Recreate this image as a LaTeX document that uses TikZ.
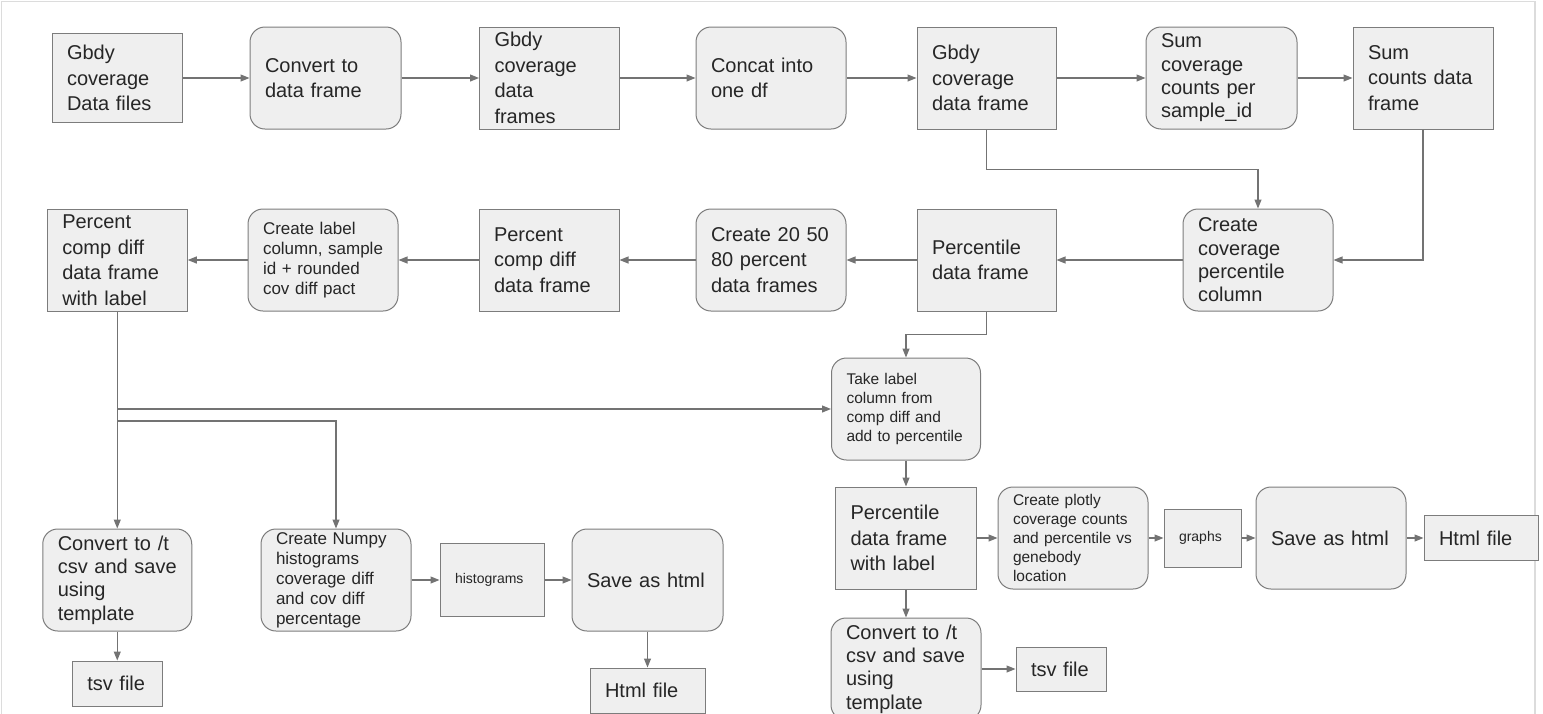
\documentclass[tikz,border=0pt]{standalone}
\usepackage{fontspec}
\setmainfont{Liberation Sans}
\usetikzlibrary{arrows.meta}

\definecolor{boxfill}{HTML}{EFEFEF}
\definecolor{boxline}{HTML}{7C7C7C}
\definecolor{flowline}{HTML}{737373}
\definecolor{txtgray}{HTML}{262626}
\definecolor{framegray}{HTML}{DCDCDC}

\newcommand{\bigtxt}{\fontsize{20pt}{25.5pt}\selectfont}
\newcommand{\tighttxt}{\fontsize{20pt}{23.3pt}\selectfont}
\newcommand{\smalltxt}{\fontsize{17pt}{20pt}\selectfont}
\newcommand{\smallertxt}{\fontsize{15.5pt}{19pt}\selectfont}
\newcommand{\tinytxt}{\fontsize{14pt}{17pt}\selectfont}

\tikzset{
  stepbox/.style={draw=boxline, fill=boxfill, text=txtgray, line width=1pt,
    align=left, inner xsep=15pt, inner ysep=0pt, font=\bigtxt},
  roundbox/.style={stepbox, rounded corners=15pt},
  flowarrow/.style={draw=flowline, line width=1.1pt, -{Triangle[length=9pt,width=7pt]}},
  wh/.style 2 args={text width=#1, minimum height=#2},
}

\begin{document}
\begin{tikzpicture}[x=1pt, y=-1pt]
\useasboundingbox (0,0) rectangle (1543,713);
\clip (0,0) rectangle (1543,713);

% Drawing page frame
\draw [framegray, line width=1.5pt] (1.5,800) -- (1.5,1.5) -- (1535,1.5) -- (1535,800);

% Drawing top row
\node [stepbox, wh={100pt}{89pt}] (gbdyfiles) at (117,78) {Gbdy\\coverage\\Data files};
\node [roundbox, wh={121pt}{102pt}] (todf) at (325.5,78) {Convert to\\data frame};
\node [stepbox, wh={110pt}{102pt}] (gbdyframes) at (549.5,78) {Gbdy\\coverage\\data\\frames};
\node [roundbox, wh={120pt}{102pt}] (concat) at (771,78) {Concat into\\one df};
\node [stepbox, wh={109pt}{102pt}] (gbdydf) at (986.5,78) {Gbdy\\coverage\\data frame};
\node [roundbox, wh={121pt}{102pt}, font=\tighttxt] (sumcov) at (1221.5,78) {Sum\\coverage\\counts per\\sample\_id};
\node [stepbox, wh={110pt}{102pt}] (sumdf) at (1423,78) {Sum\\counts data\\frame};

% Drawing middle row
\node [roundbox, wh={120pt}{102pt}, font=\tighttxt] (pctcol) at (1258,260) {Create\\coverage\\percentile\\column};
\node [stepbox, wh={109pt}{102pt}] (pctdf) at (986.5,260) {Percentile\\data frame};
\node [roundbox, wh={120pt}{102pt}] (pctframes) at (771,260) {Create 20 50\\80 percent\\data frames};
\node [stepbox, wh={110pt}{102pt}] (compdiff) at (549,260) {Percent\\comp diff\\data frame};
\node [roundbox, wh={120pt}{102pt}, font=\smalltxt] (mklabel) at (323,260) {Create label\\column, sample\\id + rounded\\cov diff pact};
\node [stepbox, wh={110pt}{102pt}] (compdifflbl) at (117.25,260) {Percent\\comp diff\\data frame\\with label};

% Drawing lower right branch
\node [roundbox, wh={119pt}{102pt}, font=\smallertxt] (takelbl) at (906,409) {Take label\\column from\\comp diff and\\add to percentile};
\node [stepbox, wh={111pt}{102pt}] (pctlbl) at (906,538) {Percentile\\data frame\\with label};
\node [roundbox, wh={120pt}{102pt}, font=\smallertxt] (plotly) at (1073,538) {Create plotly\\coverage counts\\and percentile vs\\genebody\\location};
\node [stepbox, wh={47pt}{58pt}, font=\tinytxt] (graphs) at (1202.5,538) {graphs};
\node [roundbox, wh={120pt}{102pt}] (savehtml2) at (1331,538) {Save as html};
\node [stepbox, wh={84pt}{45pt}] (htmlfile2) at (1481,538) {Html file};
\node [roundbox, wh={120pt}{102pt}, font=\tighttxt] (convert2) at (906,669) {Convert to /t\\csv and save\\using\\template};
\node [stepbox, wh={60pt}{44pt}] (tsvfile2) at (1061,669) {tsv file};

% Drawing lower left branch
\node [roundbox, wh={119pt}{102pt}, font=\tighttxt] (convert1) at (117.25,580) {Convert to /t\\csv and save\\using\\template};
\node [stepbox, wh={60pt}{45pt}] (tsvfile1) at (117.25,683.5) {tsv file};
\node [roundbox, wh={120pt}{102pt}, font=\smalltxt] (numpy) at (336,580) {Create Numpy\\histograms\\coverage diff\\and cov diff\\percentage};
\node [stepbox, wh={74pt}{73pt}, font=\tinytxt] (hist) at (492,580) {histograms};
\node [roundbox, wh={121pt}{102pt}] (savehtml1) at (647.5,580) {Save as html};
\node [stepbox, wh={85pt}{45pt}] (htmlfile1) at (647.5,690.5) {Html file};

\coordinate (fork1) at (117.25,409);
\coordinate (fork2) at (117.25,421);

% Drawing connectors
\draw [flowarrow] (gbdyfiles) -- (todf);
\draw [flowarrow] (todf) -- (gbdyframes);
\draw [flowarrow] (gbdyframes) -- (concat);
\draw [flowarrow] (concat) -- (gbdydf);
\draw [flowarrow] (gbdydf) -- (sumcov);
\draw [flowarrow] (sumcov) -- (sumdf);
\draw [flowarrow] (gbdydf.south) -- ++(0,40) -| (pctcol.north);
\draw [flowarrow] (sumdf.south) |- (pctcol.east);
\draw [flowarrow] (pctcol) -- (pctdf);
\draw [flowarrow] (pctdf) -- (pctframes);
\draw [flowarrow] (pctframes) -- (compdiff);
\draw [flowarrow] (compdiff) -- (mklabel);
\draw [flowarrow] (mklabel) -- (compdifflbl);
\draw [flowarrow] (pctdf.south) -- ++(0,23) -| (takelbl.north);
\draw [flowarrow] (compdifflbl) -- (convert1);
\draw [flowarrow] (fork1) -- (takelbl.west);
\draw [flowarrow] (fork2) -| (numpy.north);
\draw [flowarrow] (convert1) -- (tsvfile1);
\draw [flowarrow] (numpy) -- (hist);
\draw [flowarrow] (hist) -- (savehtml1);
\draw [flowarrow] (savehtml1) -- (htmlfile1);
\draw [flowarrow] (takelbl) -- (pctlbl);
\draw [flowarrow] (pctlbl) -- (plotly);
\draw [flowarrow] (plotly) -- (graphs);
\draw [flowarrow] (graphs) -- (savehtml2);
\draw [flowarrow] (savehtml2) -- (htmlfile2);
\draw [flowarrow] (pctlbl) -- (convert2);
\draw [flowarrow] (convert2) -- (tsvfile2);
\end{tikzpicture}
\end{document}
